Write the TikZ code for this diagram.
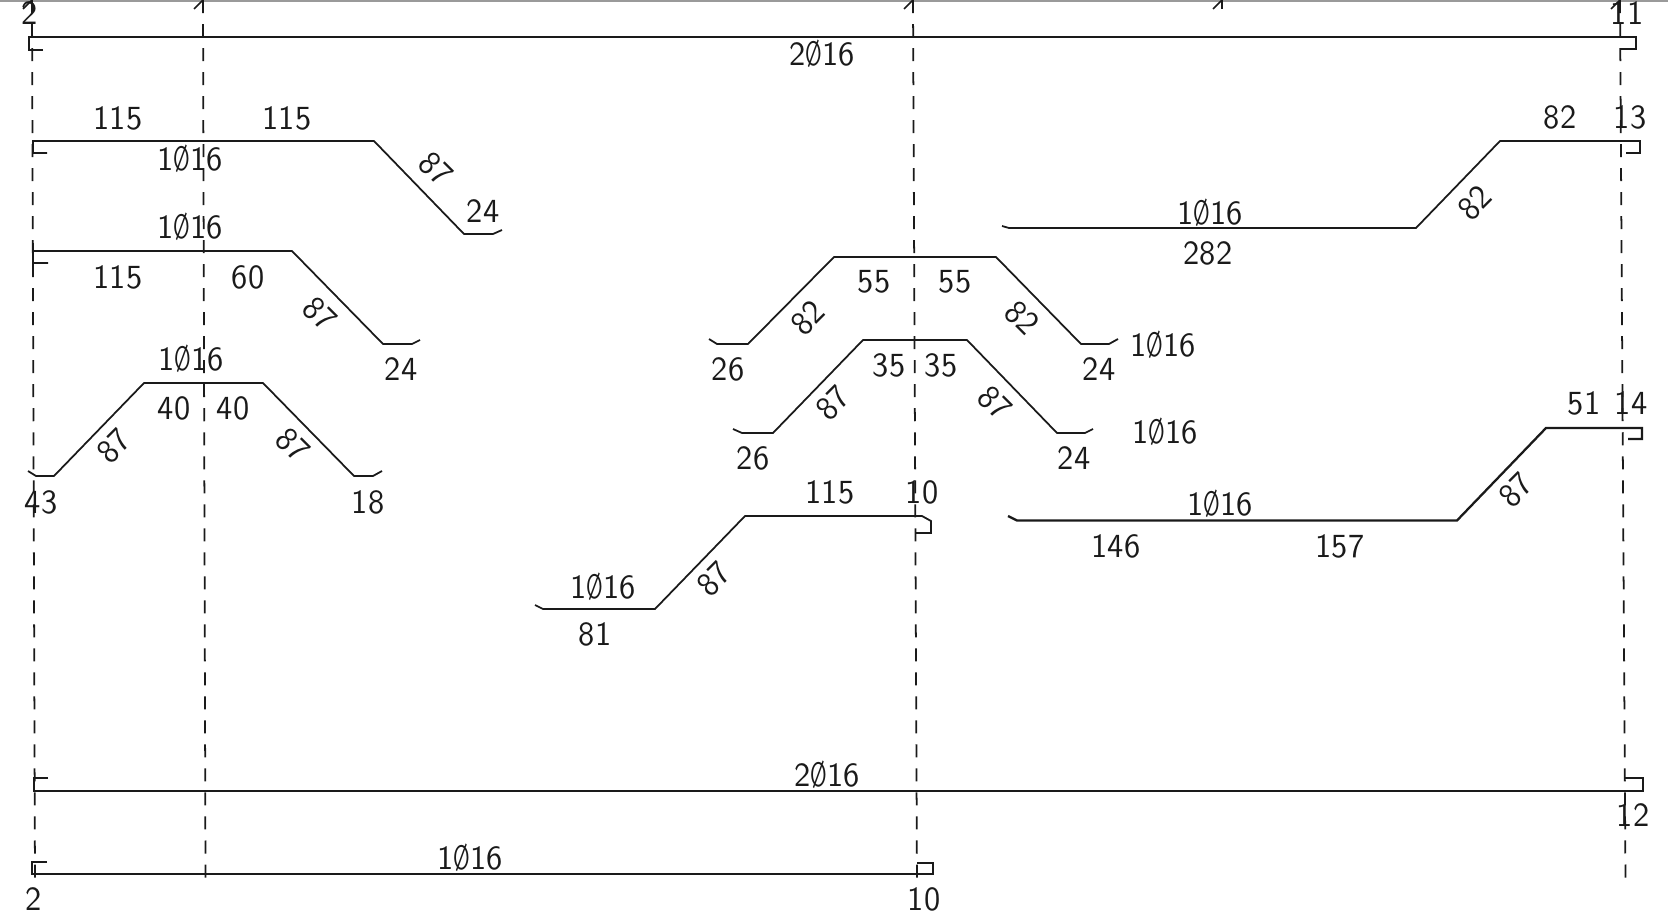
\documentclass[tikz,border=0pt]{standalone}
\usepackage{xcolor}
\usepackage{graphicx}
\usepackage{fontspec}
\setsansfont{Latin Modern Sans}[FakeStretch=0.96]
\definecolor{ink}{HTML}{1A1A1A}
\definecolor{scan}{HTML}{9A9A9A}
\newcommand{\dia}{\scalebox{0.66}[1]{Ø}}
\tikzset{
  bar/.style={draw=ink, line width=0.5pt, line join=miter},
  mainbar/.style={draw=ink, line width=0.65pt},
  axis/.style={draw=ink, line width=0.5pt, dash pattern=on 0.13cm off 0.11cm},
  edge/.style={draw=scan, line width=0.6pt},
  lab/.style={text=ink, inner sep=0pt, font=\sffamily\fontsize{9.6}{10}\selectfont},
}
\begin{document}
\begin{tikzpicture}[x=0.01cm,y=-0.01cm]
  \useasboundingbox (0,0) rectangle (1668,921);
  \draw[edge] (0,0.5) -- (1668,0.5);
  \foreach \ax/\xa/\xb/\yb in {a/32/35/884,b/203/205.5/882,c/913/917/882,d/1620/1625.5/882}{
    \coordinate (\ax top) at (\xa,0);
    \coordinate (\ax end) at (\xb,\yb);
    \draw[axis] (\ax top) -- (\ax end);
  }
  \foreach \xa/\xb/\yb in {32/23/9,203/194/9,913/904/9,1222/1213/9,1620/1611/9}
    \draw[bar] (\xb,\yb) -- (\xa,0);
  \draw[bar] (1222,0) -- (1222,9);
  \draw[mainbar] (43,50) -- (29,50) -- (29,37) -- (1636,37) -- (1636,49) -- (1621,49);
  \draw[bar] (47,153) -- (33,153) -- (33,141) -- (374,141) -- (464,234) -- (493,234) -- (502,230);
  \draw[bar] (48,263) -- (33,263) -- (33,243) (33,251) -- (292,251) -- (383,344) -- (412,344) -- (420,340);
  \draw[bar] (28,471) -- (36,476) -- (54,476) -- (144,383) -- (263,383) -- (354,476) -- (373,476) -- (382,471);
  \draw[bar] (709,339) -- (717,344) -- (748,344) -- (834,257) -- (996,257) -- (1081,344) -- (1109,344) -- (1118,339);
  \draw[bar] (733,429) -- (742,433) -- (773,433) -- (863,340) -- (967,340) -- (1057,433) -- (1085,433) -- (1093,429);
  \draw[bar] (535,605) -- (543,609) -- (655,609) -- (745,516) -- (922,516) -- (931,521) -- (931,533) -- (916,533);
  \draw[bar] (1002,226) -- (1009,228) -- (1416,228) -- (1500,141) -- (1640,141) -- (1640,153) -- (1626,153);
  \draw[mainbar] (1008,516) -- (1017,520.5) -- (1457,520.5) -- (1546,428) -- (1642,428) -- (1642,439) -- (1628,439);
  \draw[mainbar] (48,778) -- (34,778) -- (34,791) -- (1643,791) -- (1643,778) -- (1625,778);
  \draw[bar] (47,862) -- (32,862) -- (32,874) -- (933,874) -- (933,863) -- (917,863);
  \foreach \n/\xa/\yb/\r/\t in {
    p1/30/13/0/2,p2/1627/13/0/11,p3/1630/117/0/13,p4/1631/403/0/14,p5/922/492/0/10,
    p6/1633/815/0/12,p7/34/899/0/2,p8/924/899/0/10,p9/41/502/0/43,
    m1/822/54/0/2\dia16,m2/827/775/0/2\dia16,m3/470/858/0/1\dia16,m4/190/159/0/1\dia16,m5/190/227/0/1\dia16,
    m6/191/359/0/1\dia16,m7/603/587/0/1\dia16,m8/1163/345/0/1\dia16,m9/1165/432/0/1\dia16,m10/1210/213/0/1\dia16,m11/1220/504/0/1\dia16,
    d1/118/118/0/115,d2/287/118/0/115,d3/483/211/0/24,d4/118/277/0/115,d5/248/277/0/60,d6/401/369/0/24,
    d7/174/408/0/40,d8/233/408/0/40,d9/368/502/0/18,d10/874/282/0/55,d11/955/282/0/55,d12/728/369/0/26,
    d13/1099/369/0/24,d14/889/365/0/35,d15/941/365/0/35,d16/753/458/0/26,d17/1074/458/0/24,d18/830/492/0/115,
    d19/595/634/0/81,d20/1116/546/0/146,d21/1340/546/0/157,d22/1584/403/0/51,d23/1560/117/0/82,d24/1208/253/0/282,
    s1/436/169/-45/87,s2/320/314/-45/87,s3/114/446/45/87,s4/293/445/-45/87,s5/808/318/45/82,s6/1022/318/-45/82,
    s7/833/403/45/87,s8/995/403/-45/87,s9/714/579/45/87,s10/1475/203/45/82,s11/1516/490/45/87}
    \node[lab,rotate=\r] (lab\n) at (\xa,\yb) {\t};
\end{tikzpicture}
\end{document}
